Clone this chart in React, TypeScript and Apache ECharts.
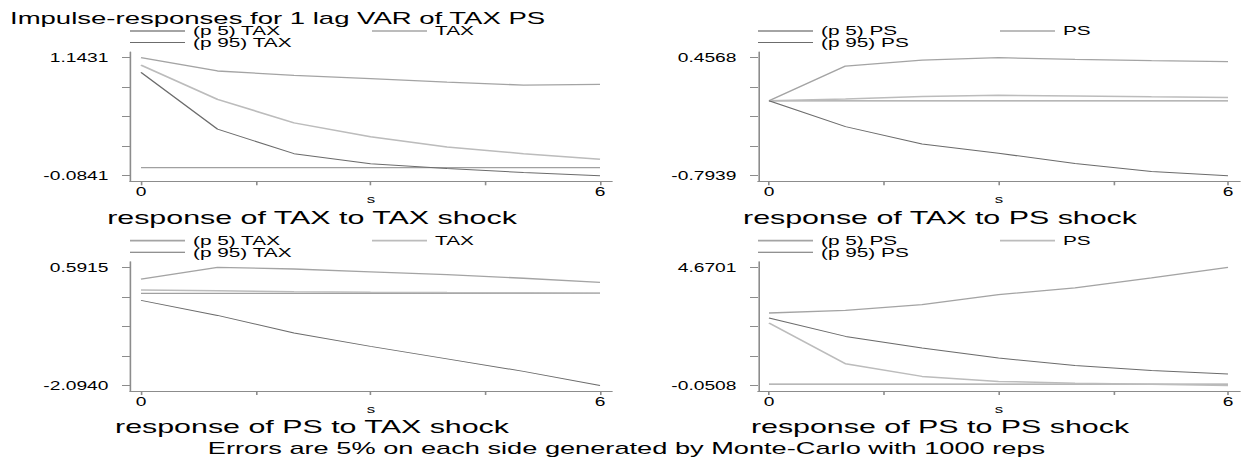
import React, { useEffect, useRef } from "react";
import * as echarts from "echarts";

// ---------- data ----------
const steps = [0, 1, 2, 3, 4, 5, 6];
const xTickValues = [0, 1.5, 3, 4.5, 6];
const xLabelValues = [0, 6];
const zeroLine = [0, 0, 0, 0, 0, 0, 0];

// response of TAX to TAX shock
const taxTaxP5 = [1.1431, 1.005, 0.96, 0.925, 0.89, 0.858, 0.866];
const taxTaxEst = [1.067, 0.71, 0.465, 0.32, 0.215, 0.145, 0.088];
const taxTaxP95 = [0.99, 0.4, 0.145, 0.04, -0.01, -0.05, -0.0841];
const taxTaxRange = [-0.0841, 1.1431];

// response of TAX to PS shock
const taxPsP5 = [0, 0.368, 0.432, 0.4568, 0.44, 0.425, 0.415];
const taxPsEst = [0, 0.02, 0.045, 0.058, 0.052, 0.043, 0.036];
const taxPsP95 = [0, -0.274, -0.458, -0.556, -0.665, -0.75, -0.7939];
const taxPsRange = [-0.7939, 0.4568];

// response of PS to TAX shock
const psTaxP5 = [0.327, 0.5915, 0.555, 0.49, 0.425, 0.345, 0.25];
const psTaxEst = [0.077, 0.058, 0.04, 0.028, 0.02, 0.014, 0.01];
const psTaxP95 = [-0.159, -0.501, -0.9, -1.206, -1.49, -1.775, -2.094];
const psTaxRange = [-2.094, 0.5915];

// response of PS to PS shock
const psPsP5 = [2.846, 2.95, 3.18, 3.58, 3.85, 4.25, 4.6701];
const psPsEst = [2.446, 0.817, 0.31, 0.11, 0.037, 0.0, -0.0508];
const psPsP95 = [2.646, 1.91, 1.445, 1.045, 0.75, 0.55, 0.405];
const psPsRange = [-0.0508, 4.6701];

const mainTitle = "Impulse-responses for 1 lag VAR of TAX PS";
const footNote = "Errors are 5% on each side generated by Monte-Carlo with 1000 reps";

// ---------- layout / style ----------
const K = 1.6; // horizontal stretch of the whole picture
const FONT = '"Liberation Sans", Arial, Helvetica, sans-serif';
const AXIS_COLOR = "#8c8c8c";
const STY: Record<string, { color: string; width: number; legendH: number }> = {
  p5: { color: "#a4a4a4", width: 1.3, legendH: 1.8 },
  est: { color: "#bcbcbc", width: 1.5, legendH: 1.8 },
  p95: { color: "#6c6c6c", width: 1, legendH: 1.1 },
  zero: { color: "#a0a0a0", width: 1.2, legendH: 1 },
};

const panels = [
  { col: 0, row: 0, shock: "TAX", title: "response of TAX to TAX shock", p5: taxTaxP5, est: taxTaxEst, p95: taxTaxP95, range: taxTaxRange },
  { col: 1, row: 0, shock: "PS", title: "response of TAX to PS shock", p5: taxPsP5, est: taxPsEst, p95: taxPsP95, range: taxPsRange },
  { col: 0, row: 1, shock: "TAX", title: "response of PS to TAX shock", p5: psTaxP5, est: psTaxEst, p95: psTaxP95, range: psTaxRange },
  { col: 1, row: 1, shock: "PS", title: "response of PS to PS shock", p5: psPsP5, est: psPsEst, p95: psPsP95, range: psPsRange },
];

function buildOption() {
  const grid: any[] = [];
  const xAxis: any[] = [];
  const yAxis: any[] = [];
  const series: any[] = [];
  const legend: any[] = [];
  const title: any[] = [
    {
      text: mainTitle,
      left: 10 / K,
      top: 11.35,
      padding: 0,
      textVerticalAlign: "top",
      textStyle: { fontSize: 17.2, lineHeight: 13, fontWeight: "normal", color: "#000", fontFamily: FONT },
    },
    {
      text: footNote,
      left: 626.5 / K,
      top: 439.3,
      padding: 0,
      textAlign: "center",
      textVerticalAlign: "top",
      textStyle: { fontSize: 17, lineHeight: 17, fontWeight: "normal", color: "#000", fontFamily: FONT },
    },
  ];

  panels.forEach((p, i) => {
    const dx = p.col * 628;
    const dy = p.row * 209.7;
    const ax = 130 + dx, x0 = 141 + dx, x6 = 600 + dx, xe = 612 + dx;
    const ppu = (x6 - x0) / 6;
    const xmin = -(x0 - ax) / ppu;
    const xmax = 6 + (xe - x6) / ppu;
    const yT = 52 + dy, yMx = 57.7 + dy, yMn = 175.7 + dy, yB = 181.3 + dy;
    const [vmin, vmax] = p.range;
    const ppv = (yMn - yMx) / (vmax - vmin);
    const ymin = vmin - (yB - yMn) / ppv;
    const ymax = vmax + (yMx - yT) / ppv;
    const yTicks = [0, 1, 2, 3, 4].map((k) => vmin + (k * (vmax - vmin)) / 4);

    grid.push({ left: ax / K, top: yT, width: (xe - ax) / K, height: yB - yT, containLabel: false, outerBoundsMode: "none" });

    xAxis.push({
      type: "value",
      gridIndex: i,
      min: xmin,
      max: xmax,
      name: "s",
      nameLocation: "middle",
      nameGap: 12.5,
      nameMoveOverlap: false,
      nameTextStyle: { fontSize: 10.5, lineHeight: 11, color: "#000", fontFamily: FONT },
      axisLine: { show: true, onZero: false, lineStyle: { color: AXIS_COLOR, width: 1 } },
      axisTick: { show: true, length: 4, customValues: xTickValues, lineStyle: { color: AXIS_COLOR, width: 1 } },
      axisLabel: { show: true, customValues: xLabelValues, margin: 4.4, fontSize: 12, color: "#000", fontFamily: FONT, formatter: (v: number) => String(Math.round(v)) },
      splitLine: { show: false },
    });

    yAxis.push({
      type: "value",
      gridIndex: i,
      min: ymin,
      max: ymax,
      axisLine: { show: true, onZero: false, lineStyle: { color: AXIS_COLOR, width: 1 } },
      axisTick: { show: true, length: 8 / K, customValues: yTicks, lineStyle: { color: AXIS_COLOR, width: 1 } },
      axisLabel: { show: true, customValues: [vmin, vmax], margin: 13.5, fontSize: 12, color: "#000", fontFamily: FONT, formatter: (v: number) => v.toFixed(4) },
      splitLine: { show: false },
    });

    const names = { p5: `(p 5) ${p.shock}`, est: p.shock, p95: `(p 95) ${p.shock}` };
    const mk = (name: string, arr: number[], sty: { color: string; width: number }, z: number) => ({
      type: "line",
      name,
      xAxisIndex: i,
      yAxisIndex: i,
      data: steps.map((s, j) => [s, arr[j]]),
      symbol: "none",
      showSymbol: false,
      silent: true,
      z,
      lineStyle: { color: sty.color, width: sty.width },
      itemStyle: { color: sty.color },
    });
    series.push(mk(`zero-${i}`, zeroLine, STY.zero, 1));
    series.push(mk(names.p5, p.p5, STY.p5, 2));
    series.push(mk(names.est, p.est, STY.est, 3));
    series.push(mk(names.p95, p.p95, STY.p95, 4));

    const row1 = 30 + dy, row2 = 41.5 + dy;
    const legItem = (name: string, x: number, y: number, h: number) => ({
      show: true,
      data: [name],
      left: x / K,
      top: y - 5.5,
      orient: "horizontal",
      padding: 0,
      itemGap: 0,
      icon: "rect",
      itemWidth: 55 / K,
      itemHeight: h,
      selectedMode: false,
      textStyle: { fontSize: 13, lineHeight: 11, color: "#000", fontFamily: FONT },
    });
    legend.push(legItem(names.p5, 130 + dx, row1, STY.p5.legendH));
    legend.push(legItem(names.est, 372 + dx, row1, STY.est.legendH));
    legend.push(legItem(names.p95, 130 + dx, row2, STY.p95.legendH));

    title.push({
      text: p.title,
      left: (312 + dx) / K,
      top: 207.5 + dy,
      padding: 0,
      textAlign: "center",
      textVerticalAlign: "top",
      textStyle: { fontSize: 19, lineHeight: 19, fontWeight: "normal", color: "#000", fontFamily: FONT },
    });
  });

  return {
    animation: false,
    backgroundColor: "#ffffff",
    textStyle: { fontFamily: FONT },
    title,
    legend,
    grid,
    xAxis,
    yAxis,
    series,
  };
}

export default function App() {
  const ref = useRef<HTMLDivElement>(null);
  useEffect(() => {
    if (!ref.current) return;
    const chart = echarts.init(ref.current, null, { renderer: "svg" });
    chart.setOption(buildOption() as any);
    return () => chart.dispose();
  }, []);
  return (
    <div style={{ position: "absolute", left: 0, top: 0, width: 1244, height: 462, overflow: "hidden", background: "#fff" }}>
      <div
        ref={ref}
        style={{ width: 1244 / K, height: 462, transform: `scaleX(${K})`, transformOrigin: "0 0" }}
      />
    </div>
  );
}
